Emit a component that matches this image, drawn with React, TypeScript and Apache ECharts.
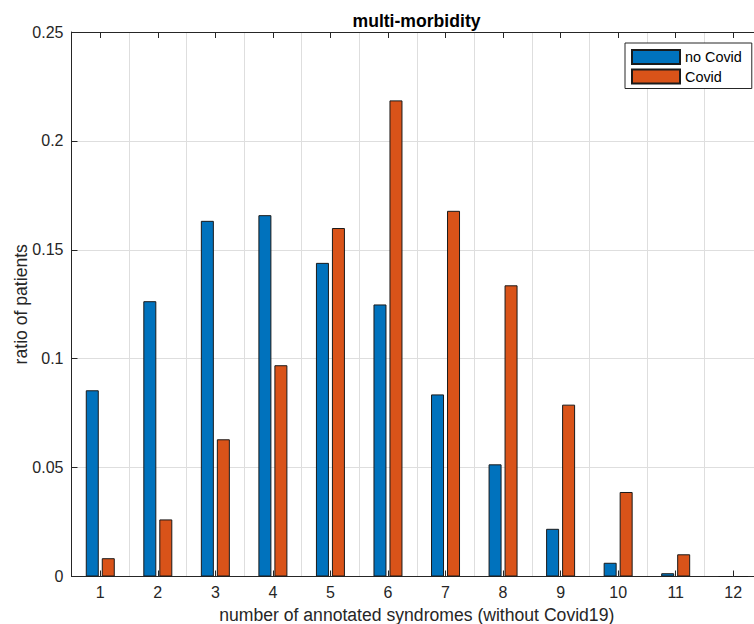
import React, { useEffect, useRef } from "react";
import * as echarts from "echarts";

const categories = ["1", "2", "3", "4", "5", "6", "7", "8", "9", "10", "11", "12"];
const noCovid = [0.0855, 0.1264, 0.1633, 0.1659, 0.144, 0.1249, 0.0836, 0.0515, 0.0219, 0.0063, 0.0015, 0];
const covid = [0.0084, 0.0262, 0.063, 0.097, 0.16, 0.2186, 0.1679, 0.1337, 0.0789, 0.0388, 0.0102, 0];
const yTicks = [0, 0.05, 0.1, 0.15, 0.2, 0.25];

const FONT = "'Liberation Sans', Arial, Helvetica, sans-serif";
const TXT = "#262626";

export default function App() {
  const ref = useRef<HTMLDivElement>(null);
  useEffect(() => {
    if (!ref.current) return;
    const chart = echarts.init(ref.current, undefined, { renderer: "svg" });
    chart.setOption({
      animation: false,
      backgroundColor: "#ffffff",
      textStyle: { fontFamily: FONT },
      title: {
        text: "multi-morbidity",
        left: 416.5,
        textAlign: "center",
        top: 12,
        padding: 0,
        textStyle: { fontFamily: FONT, fontSize: 17.6, fontWeight: "bold", color: "#000" },
      },
      legend: {
        orient: "vertical",
        left: 625,
        top: 43,
        padding: [6, 10, 4, 6],
        itemGap: 3.5,
        itemWidth: 48,
        itemHeight: 14,
        icon: "rect",
        borderColor: TXT,
        borderWidth: 1,
        backgroundColor: "#fff",
        textStyle: { fontFamily: FONT, fontSize: 14.4, color: "#000" },
        data: ["no Covid", "Covid"],
      },
      grid: {
        left: 71.5,
        top: 32,
        right: -8,
        bottom: 47.5,
        containLabel: false,
        outerBoundsMode: "none",
      },
      xAxis: [
        {
          type: "category",
          data: categories,
          position: "bottom",
          name: "number of annotated syndromes (without Covid19)",
          nameLocation: "middle",
          nameGap: 29,
          nameMoveOverlap: false,
          nameTextStyle: { fontFamily: FONT, fontSize: 17.6, color: TXT },
          axisLine: { show: true, lineStyle: { color: TXT, width: 1 } },
          axisTick: { show: true, inside: true, alignWithLabel: true, length: 6, lineStyle: { color: TXT } },
          axisLabel: { fontFamily: FONT, fontSize: 16, color: TXT, margin: 8 },
          splitLine: { show: false },
        },
        {
          type: "value",
          min: 0.5,
          max: 12.5,
          interval: 1,
          position: "bottom",
          axisLine: { show: false },
          axisTick: { show: false },
          axisLabel: { show: false },
          splitLine: { show: true, lineStyle: { color: "#dedede", width: 1 } },
        },
        {
          type: "category",
          data: categories,
          position: "top",
          axisLine: { show: true, lineStyle: { color: TXT, width: 1 } },
          axisTick: { show: true, inside: true, alignWithLabel: true, length: 6, lineStyle: { color: TXT } },
          axisLabel: { show: false },
          splitLine: { show: false },
        },
      ],
      yAxis: {
        type: "value",
        min: 0,
        max: 0.25,
        interval: 0.05,
        name: "ratio of patients",
        nameLocation: "middle",
        nameGap: 42,
        nameMoveOverlap: false,
        nameTextStyle: { fontFamily: FONT, fontSize: 17.6, color: TXT },
        axisLine: { show: true, lineStyle: { color: TXT, width: 1 } },
        axisTick: { show: true, inside: true, length: 6, lineStyle: { color: TXT } },
        axisLabel: {
          fontFamily: FONT,
          fontSize: 16,
          color: TXT,
          margin: 8,
          formatter: (v: number) => {
            const t = yTicks.find((x) => Math.abs(x - v) < 1e-9);
            return t === undefined ? "" : String(t);
          },
        },
        splitLine: { show: true, lineStyle: { color: "#dedede", width: 1 } },
      },
      series: [
        {
          name: "no Covid",
          type: "bar",
          xAxisIndex: 0,
          data: noCovid,
          barWidth: 13,
          barGap: "23%",
          itemStyle: { color: "#0072BD", borderColor: "#1a1a1a", borderWidth: 1 },
        },
        {
          name: "Covid",
          type: "bar",
          xAxisIndex: 0,
          data: covid,
          barWidth: 13,
          barGap: "23%",
          itemStyle: { color: "#D95319", borderColor: "#1a1a1a", borderWidth: 1 },
        },
      ],
    });
    return () => chart.dispose();
  }, []);
  return (
    <div
      ref={ref}
      style={{ position: "fixed", left: 0, top: 0, width: 754, height: 624, background: "#fff" }}
    />
  );
}
